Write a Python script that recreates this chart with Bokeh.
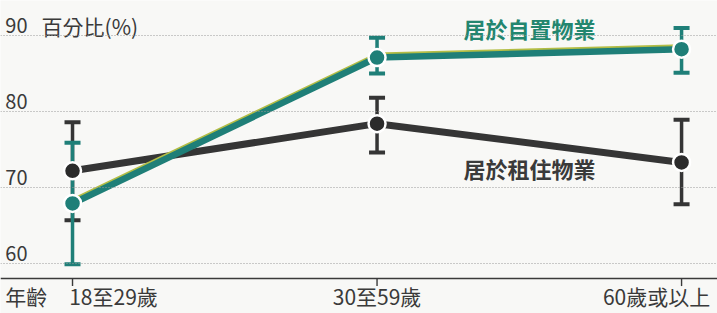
from bokeh.plotting import figure
from bokeh.models import Span
from bokeh.embed import file_html
from bokeh.resources import INLINE
from bokeh.core.properties import value

# ---- data ----
categories = ["18至29歲", "30至59歲", "60歲或以上"]
cat_x = [0, 1, 2]
owned = [67.9, 87.1, 88.2]
owned_lo = [59.9, 85.0, 85.1]
owned_hi = [75.9, 89.7, 91.0]
rented = [72.2, 78.4, 73.3]
rented_lo = [65.7, 74.6, 67.8]
rented_hi = [78.6, 81.8, 78.9]
y_ticks = [60, 70, 80, 90]
y_tick_labels = ["60", "70", "80", "90"]
y_title = "百分比(%)"
x_title = "年齡"
owned_name = "居於自置物業"
rented_name = "居於租住物業"

# ---- style / layout ----
W, H = 717, 313
X0, X1 = -0.2365, 2.118
Y0, Y1 = 53.42, 94.605
BASE = 58.03
FONT = value("Noto Sans CJK TC")
TEAL = "#1f7f78"
TEAL_TXT = "#23866f"
FRINGE = "#b3bd45"
DARK = "#353535"
TXT = "#3a3a3a"
BG = "#f8f8f6"

p = figure(width=W, height=H, x_range=(X0, X1), y_range=(Y0, Y1),
           x_axis_type=None, y_axis_type=None, output_backend="svg",
           toolbar_location=None, min_border=0)
p.background_fill_color = BG
p.border_fill_color = BG
p.outline_line_color = None
p.grid.visible = False

# dotted gridlines
for t in y_ticks:
    p.add_layout(Span(location=t, dimension="width", line_color="#9a9a9a",
                      line_dash="1 2", line_width=1))
# baseline axis
p.add_layout(Span(location=BASE, dimension="width", line_color=TXT, line_width=1.6))
p.segment(x0=cat_x, y0=[BASE] * 3, x1=cat_x, y1=[BASE - 1.0] * 3,
          line_color=TXT, line_width=1.4)

# y tick labels
p.text(x=[X0 + 0.016] * len(y_ticks), y=[t + 1.3 for t in y_ticks], text=y_tick_labels,
       text_font=FONT, text_font_size="20px", text_color=TXT,
       text_align="left", text_baseline="alphabetic")
p.text(x=[X0 + 0.135], y=[y_ticks[-1] + 1.3], text=[y_title],
       text_font=FONT, text_font_size="21px", text_color=TXT,
       text_align="left", text_baseline="alphabetic")

# x labels
lab_y = 55.7
p.text(x=cat_x, y=[lab_y] * 3, text=categories, x_offset=[41, 0, -25],
       text_font=FONT, text_font_size="21px", text_color=TXT,
       text_align="center", text_baseline="alphabetic")
p.text(x=[X0 + 0.016], y=[lab_y], text=[x_title],
       text_font=FONT, text_font_size="21px", text_color=TXT,
       text_align="left", text_baseline="alphabetic")

# error bars
def errbar(lo, hi, color):
    p.segment(x0=cat_x, y0=lo, x1=cat_x, y1=hi, line_color=color, line_width=3.5)
    p.scatter(x=cat_x + cat_x, y=lo + hi, marker="dash", size=16,
              line_color=color, line_width=4)

errbar(rented_lo, rented_hi, DARK)
errbar(owned_lo, owned_hi, TEAL)

# lines
p.line(cat_x, rented, line_color=DARK, line_width=7)
p.line(cat_x, [v + 0.22 for v in owned], line_color=FRINGE, line_width=6.5)
p.line(cat_x, owned, line_color=TEAL, line_width=6.5)

# markers
p.scatter(cat_x, rented, size=17, fill_color="#2b2b2b", line_color="white", line_width=2.5)
p.scatter(cat_x, owned, size=17, fill_color=TEAL, line_color="white", line_width=2.5)

# series labels
p.text(x=[1.501], y=[91.05], text=[owned_name], text_font=FONT, text_font_size="22px",
       text_font_style="bold", text_color=TEAL_TXT, text_align="center", text_baseline="middle")
p.text(x=[1.501], y=[72.5], text=[rented_name], text_font=FONT, text_font_size="22px",
       text_font_style="bold", text_color=TXT, text_align="center", text_baseline="middle")

open("out.html", "w").write(file_html(p, INLINE))
